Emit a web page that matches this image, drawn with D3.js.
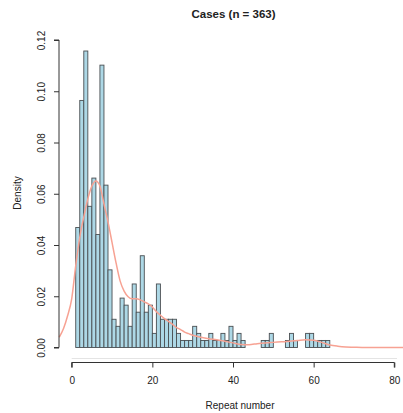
<!DOCTYPE html>
<html>
<head>
  <meta charset="UTF-8">
  <style>
    body { margin: 0; padding: 0; background: #fff; }
    svg { display: block; font-family: "Liberation Sans", Arial, sans-serif; }
  </style>
</head>
<body>
  <svg></svg>
  <script src="https://d3js.org/d3.v7.min.js"></script>
  <script>
    // histogram: one bin per repeat number, bin [k, k+1]
    const n = 363;
    const binStart = d3.range(1, 101);
    const counts = [
      17, 35, 42, 20, 24, 16, 40, 23, 11, 4,     // 1-10
      3, 7, 6, 3, 9, 5, 13, 5, 6, 2,             // 11-20
      9, 4, 4, 4, 4, 2, 1, 1, 1, 3,              // 21-30
      2, 1, 1, 2, 1, 1, 2, 1, 3, 1,              // 31-40
      2, 1, 0, 0, 0, 0, 1, 1, 2, 0,              // 41-50
      0, 0, 1, 2, 1, 0, 0, 2, 2, 1,              // 51-60
      1, 1, 1, 0, 0, 0, 0, 0, 0, 0,              // 61-70
      0, 0, 0, 0, 0, 0, 0, 0, 0, 0,              // 71-80
      0, 0, 0, 0, 0, 0, 0, 0, 0, 0,
      0, 0, 0, 0, 0, 0, 0, 0, 0, 0
    ];

    // kernel density curve
    const densX = [-3.1, -2, -1, 0, 1, 2, 3, 4, 5, 6, 7, 8, 9, 10, 11, 12, 13, 14, 15, 16,
                   17, 18, 19, 20, 21, 22, 23, 24, 25, 26, 27, 28, 29, 30, 32, 34, 36, 38, 40, 42,
                   44, 46, 48, 50, 52, 54, 56, 58, 60, 62, 64, 66, 68, 70, 72, 84];
    const densY = [0.004, 0.0075, 0.0125, 0.019, 0.032, 0.043, 0.051, 0.058, 0.063, 0.065, 0.063, 0.056, 0.049, 0.041, 0.033, 0.026, 0.022, 0.0198, 0.019, 0.019,
                   0.0186, 0.0178, 0.017, 0.0158, 0.014, 0.0126, 0.0113, 0.0102, 0.009, 0.0078, 0.007, 0.006, 0.0054, 0.0048, 0.004, 0.0034, 0.003, 0.0024, 0.0018, 0.0012,
                   0.0011, 0.0015, 0.0018, 0.002, 0.0022, 0.0024, 0.0027, 0.003, 0.0028, 0.002, 0.001, 0.0005, 0.0002, 0.0001, 0, 0];

    const xTicks = [0, 20, 40, 60, 80];
    const yTicks = [0, 0.02, 0.04, 0.06, 0.08, 0.10, 0.12];

    const width = 403, height = 413;
    const svg = d3.select("svg").attr("width", width).attr("height", height);

    const x = d3.scaleLinear().domain([0, 80]).range([71.7, 394.3]);
    const y = d3.scaleLinear().domain([0, 0.12]).range([347.5, 40]);

    // faint line under the bars
    svg.append("line")
        .attr("x1", x(0)).attr("x2", 397)
        .attr("y1", 358.5).attr("y2", 358.5)
        .attr("stroke", "#e4e4e4");

    const bins = binStart.map((s, i) => ({ x0: s, x1: s + 1, d: counts[i] / n }));

    svg.append("g").selectAll("rect")
        .data(bins)
        .enter()
        .append("rect")
        .attr("x", d => x(d.x0))
        .attr("y", d => y(d.d))
        .attr("width", d => x(d.x1) - x(d.x0))
        .attr("height", d => y(0) - y(d.d))
        .attr("fill", "#add8e6")
        .attr("stroke", "#4a4f52")
        .attr("stroke-width", 0.9);

    const line = d3.line()
        .x(d => x(d[0]))
        .y(d => y(d[1]))
        .curve(d3.curveMonotoneX);

    svg.append("path")
        .datum(densX.map((v, i) => [v, densY[i]]))
        .attr("d", line)
        .attr("fill", "none")
        .attr("stroke", "#f7a293")
        .attr("stroke-width", 1.5);

    // y axis, R style
    const yAxis = svg.append("g")
        .attr("transform", `translate(59,0)`)
        .call(d3.axisLeft(y).tickValues(yTicks).tickFormat(d3.format(".2f")).tickSize(5).tickPadding(4));
    yAxis.select(".domain").attr("d", `M-5,${y(0)}H0V${y(0.12)}H-5`).attr("stroke", "#333");
    yAxis.selectAll(".tick line").attr("stroke", "#333");
    yAxis.selectAll(".tick text")
        .attr("transform", "rotate(-90)")
        .attr("x", 0)
        .attr("y", -14)
        .attr("dy", 0)
        .attr("text-anchor", "middle")
        .attr("font-size", 10)
        .attr("fill", "#222");

    // x axis
    const xAxis = svg.append("g")
        .attr("transform", `translate(0,362.5)`)
        .call(d3.axisBottom(x).tickValues(xTicks).tickSize(5).tickPadding(9));
    xAxis.select(".domain").attr("d", `M${x(0)},5V0H${x(80)}V5`).attr("stroke", "#333");
    xAxis.selectAll(".tick line").attr("stroke", "#333");
    xAxis.selectAll(".tick text").attr("font-size", 10).attr("fill", "#222");

    svg.append("text")
        .attr("x", 240).attr("y", 409)
        .attr("text-anchor", "middle")
        .attr("font-size", 10)
        .attr("fill", "#222")
        .text("Repeat number");

    svg.append("text")
        .attr("transform", "translate(21,193) rotate(-90)")
        .attr("text-anchor", "middle")
        .attr("font-size", 10)
        .attr("fill", "#222")
        .text("Density");

    svg.append("text")
        .attr("x", 233.5).attr("y", 18)
        .attr("text-anchor", "middle")
        .attr("font-size", 11.5)
        .attr("font-weight", "bold")
        .attr("fill", "#222")
        .text("Cases (n = 363)");
  </script>
</body>
</html>
